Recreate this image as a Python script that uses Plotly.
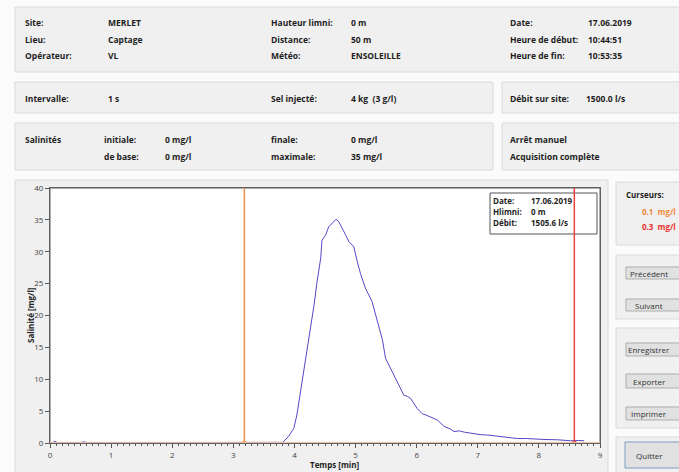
import plotly.graph_objects as go

W, H = 679, 472

# ---- data ----
time_min = [0, 0.05, 0.08, 0.12, 0.5, 0.55, 0.6, 1.5, 2.5, 3.2, 3.6, 3.81, 3.9, 3.99, 4.04, 4.09, 4.15,
            4.21, 4.26, 4.32, 4.37, 4.43, 4.45, 4.48, 4.51, 4.56, 4.62, 4.68, 4.72, 4.75, 4.80, 4.84,
            4.89, 4.94, 4.97, 5.03, 5.08, 5.16, 5.27, 5.36, 5.44, 5.49, 5.60, 5.71, 5.79, 5.85, 5.90,
            6.01, 6.09, 6.15, 6.23, 6.34, 6.45, 6.55, 6.61, 6.70, 6.78, 6.94, 7.05, 7.16, 7.30, 7.43,
            7.55, 7.65, 7.80, 7.92, 8.10, 8.31, 8.45, 8.52, 8.65, 8.74]
salinity = [0.05, 0.1, 0.3, 0.05, 0.05, 0.2, 0.05, 0.05, 0.05, 0.05, 0.05, 0.1, 1.0, 2.3, 4.4, 7.5, 10.7,
            14.3, 18.0, 21.6, 25.3, 29.0, 31.8, 32.3, 32.6, 33.9, 34.5, 35.1, 34.8, 34.3, 33.5, 32.6,
            31.6, 31.1, 30.8, 28.4, 26.6, 24.3, 22.2, 19.0, 16.2, 13.3, 11.2, 9.1, 7.5, 7.3, 7.0,
            5.4, 4.6, 4.4, 4.1, 3.6, 2.6, 2.2, 1.8, 1.9, 1.7, 1.4, 1.3, 1.25, 1.1, 1.0,
            0.8, 0.7, 0.7, 0.6, 0.55, 0.5, 0.4, 0.35, 0.4, 0.35]
cursor_times = [3.18, 8.58]
cursor_levels = ["0.1", "0.3"]
x_ticks = [0, 1, 2, 3, 4, 5, 6, 7, 8, 9]
y_ticks = [0, 5, 10, 15, 20, 25, 30, 35, 40]

header_rows = [
    ("Site:", "MERLET", "Hauteur limni:", "0 m", "Date:", "17.06.2019"),
    ("Lieu:", "Captage", "Distance:", "50 m", "Heure de début:", "10:44:51"),
    ("Opérateur:", "VL", "Météo:", "ENSOLEILLE", "Heure de fin:", "10:53:35"),
]
info_box = [("Date:", "17.06.2019"), ("Hlimni:", "0 m"), ("Débit:", "1505.6 l/s")]
buttons = ["Précédent", "Suivant", "Enregistrer", "Exporter", "Imprimer"]

FONT = "Open Sans"
TXT = "#1e1e1e"


def px(x):
    return x / W


def py(y):
    return 1 - y / H


shapes = []
annotations = []


def panel(x0, y0, x1, y1, fill="#f0f0f0", line="#dadada", w=1, layer="below"):
    shapes.append(dict(type="rect", xref="paper", yref="paper", x0=px(x0), x1=px(x1),
                       y0=py(y1), y1=py(y0), fillcolor=fill, line=dict(color=line, width=w),
                       layer=layer))


def text(x, y, s, size=8.5, bold=True, color=TXT, anchor="left"):
    annotations.append(dict(x=px(x), y=py(y), xref="paper", yref="paper", text=(f"<b>{s}</b>" if bold else s),
                            showarrow=False, xanchor=anchor, yanchor="middle", borderpad=0,
                            font=dict(family=FONT, size=size, color=color)))


# panels
panel(15, 7, 685, 72)
panel(15, 82, 493, 113)
panel(502, 82, 685, 113)
panel(15, 123, 493, 170)
panel(502, 123, 685, 170)
panel(15, 180, 608, 480)
panel(50, 188, 600, 443, fill="white", line="#606060")
panel(616, 182, 685, 245)
panel(616, 255, 685, 319)
panel(616, 328, 685, 428)
panel(616, 437, 685, 480)

# header texts
ys = [23, 39, 55]
for (a, b, c, d, e, f), y in zip(header_rows, ys):
    text(24, y, a)
    text(107, y, b)
    text(270, y, c)
    text(350, y, d)
    text(509, y, e)
    text(587, y, f)

text(24, 98, "Intervalle:")
text(107, 98, "1 s")
text(270, 98, "Sel injecté:")
text(350, 98, "4 kg  (3 g/l)")
text(509, 98, "Débit sur site:")
text(585, 98, "1500.0 l/s")

text(24, 139, "Salinités")
text(103, 139, "initiale:")
text(164, 139, "0 mg/l")
text(103, 156, "de base:")
text(164, 156, "0 mg/l")
text(270, 139, "finale:")
text(350, 139, "0 mg/l")
text(270, 156, "maximale:")
text(350, 156, "35 mg/l")
text(509, 139, "Arrêt manuel")
text(509, 156, "Acquisition complète")

# cursors panel
text(625, 194, "Curseurs:", size=8)
text(641, 211, cursor_levels[0] + "  mg/l", size=8, color="#f08a3c")
text(641, 227, cursor_levels[1] + "  mg/l", size=8, color="#e8302a")

# buttons
btn_y = [(267, 279), (299, 311), (343, 356), (374, 388), (407, 420)]
for label, (y0, y1) in zip(buttons, btn_y):
    panel(626, y0, 690, y1, fill="#e1e1e1", line="#adadad")
    text(649, (y0 + y1) / 2, label, size=8, bold=False, color="#333333", anchor="center")
panel(625, 442, 690, 468, fill="#e1e1e1", line="#7f9bc0")
text(649, 455, "Quitter", size=8, bold=False, color="#333333", anchor="center")

# info box inside plot
shapes.append(dict(type="rect", xref="paper", yref="paper", x0=px(490), x1=px(597),
                   y0=py(234), y1=py(193), fillcolor="white", line=dict(color="#555555", width=1)))
for i, (k, v) in enumerate(info_box):
    text(492, 200 + i * 11.5, k, size=8)
    text(530, 200 + i * 11.5, v, size=8)

# cursor lines
cursor_colors = ["#f0904a", "#e8403a"]
for t, c in zip(cursor_times, cursor_colors):
    shapes.append(dict(type="line", xref="x", yref="paper", x0=t, x1=t, y0=py(443), y1=py(188),
                       line=dict(color=c, width=1.5)))
shapes.append(dict(type="line", xref="paper", yref="y", x0=px(50), x1=px(600), y0=float(cursor_levels[0]),
                   y1=float(cursor_levels[0]), line=dict(color="#f5c9a8", width=1)))

# axis titles
text(335, 464, "Temps [min]", size=8, anchor="center")
annotations.append(dict(x=px(30), y=py(315), xref="paper", yref="paper", text="<b>Salinité [mg/l]</b>",
                        showarrow=False, textangle=-90, xanchor="center", yanchor="middle",
                        font=dict(family=FONT, size=8, color=TXT)))

fig = go.Figure()
fig.add_trace(go.Scatter(x=time_min, y=salinity, mode="lines",
                         line=dict(color="#5546c8", width=1), hoverinfo="skip", showlegend=False))
fig.add_trace(go.Scatter(x=cursor_times, y=[0, 0], mode="markers",
                         marker=dict(color=cursor_colors, size=4, symbol="square"),
                         hoverinfo="skip", showlegend=False))

fig.update_layout(
    width=W, height=H, autosize=False,
    margin=dict(l=0, r=0, t=0, b=0),
    paper_bgcolor="#fbfbfb", plot_bgcolor="white",
    shapes=shapes, annotations=annotations, showlegend=False,
    xaxis=dict(domain=[px(50), px(600)], range=[0, 9], tickvals=x_ticks, ticks="outside", ticklen=4,
               tickcolor="#555555", showline=True, linecolor="#606060", linewidth=1, mirror=True,
               showgrid=False, zeroline=False, tickfont=dict(family=FONT, size=8, color="#444444"),
               automargin=False,
               minor=dict(dtick=0.1, ticks="outside", ticklen=2, tickcolor="#555555", showgrid=False)),
    yaxis=dict(domain=[py(443), py(188)], range=[0, 40], tickvals=y_ticks, ticks="outside", ticklen=4,
               tickcolor="#555555", showline=True, linecolor="#606060", linewidth=1, mirror=True,
               showgrid=False, zeroline=False, automargin=False,
               tickfont=dict(family=FONT, size=8, color="#444444")),
)

fig.write_html("out.html", config={"displayModeBar": False},
               post_script="document.body.style.margin='0px';document.body.style.overflow='hidden';")
